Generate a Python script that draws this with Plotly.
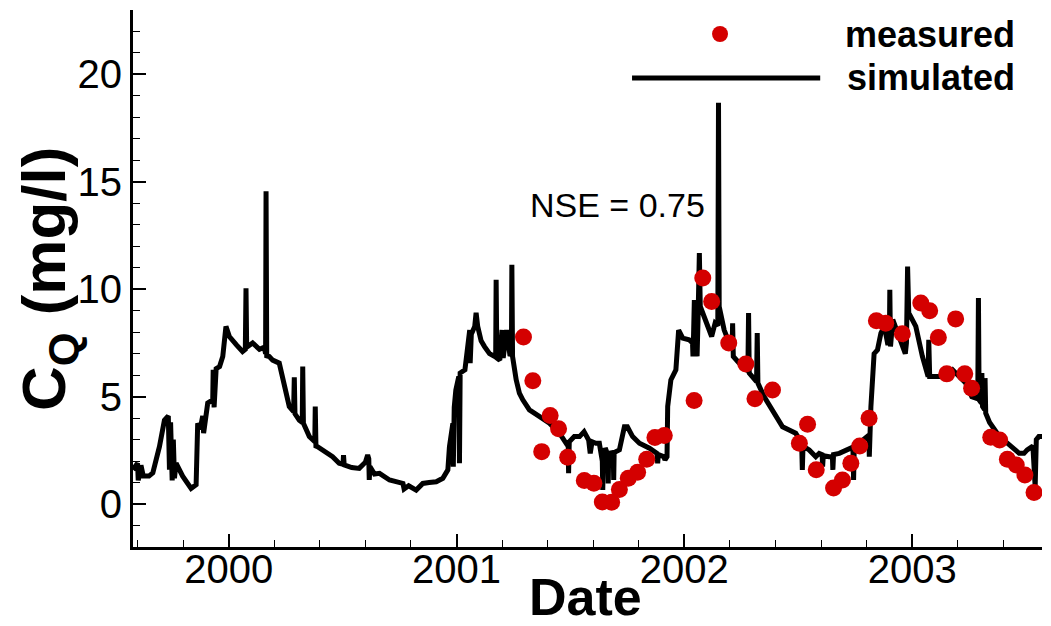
import plotly.graph_objects as go

# ---- data ----
sim_year = [
    1999.579, 1999.600, 1999.603, 1999.615, 1999.625, 1999.650, 1999.667, 1999.696, 1999.718, 1999.735,
    1999.740, 1999.745, 1999.752, 1999.757, 1999.762, 1999.769, 1999.798, 1999.835, 1999.857, 1999.864,
    1999.875, 1999.886, 1999.890, 1999.908, 1999.930, 1999.932, 1999.936, 1999.945, 1999.960, 1999.974,
    1999.988, 2000.003, 2000.035, 2000.061, 2000.073, 2000.076, 2000.079, 2000.105, 2000.135, 2000.156,
    2000.162, 2000.164, 2000.167, 2000.178, 2000.193, 2000.222, 2000.245, 2000.266, 2000.285, 2000.288,
    2000.291, 2000.310, 2000.323, 2000.325, 2000.328, 2000.354, 2000.378, 2000.380, 2000.383, 2000.390,
    2000.427, 2000.456, 2000.485, 2000.502, 2000.504, 2000.507, 2000.540, 2000.573, 2000.600, 2000.610,
    2000.615, 2000.617, 2000.620, 2000.640, 2000.662, 2000.706, 2000.740, 2000.765, 2000.770, 2000.790,
    2000.823, 2000.852, 2000.880, 2000.911, 2000.940, 2000.962, 2000.969, 2000.984, 2000.986, 2000.990,
    2000.997, 2001.010, 2001.013, 2001.016, 2001.037, 2001.050, 2001.058, 2001.060, 2001.065, 2001.080,
    2001.086, 2001.093, 2001.108, 2001.123, 2001.145, 2001.167, 2001.172, 2001.174, 2001.177, 2001.190,
    2001.200, 2001.205, 2001.220, 2001.235, 2001.241, 2001.243, 2001.246, 2001.262, 2001.276, 2001.291,
    2001.320, 2001.365, 2001.408, 2001.452, 2001.481, 2001.490, 2001.492, 2001.495, 2001.517, 2001.540,
    2001.560, 2001.580, 2001.587, 2001.595, 2001.612, 2001.627, 2001.640, 2001.642, 2001.645, 2001.656,
    2001.664, 2001.666, 2001.668, 2001.688, 2001.690, 2001.692, 2001.715, 2001.737, 2001.750, 2001.773,
    2001.803, 2001.847, 2001.880, 2001.883, 2001.886, 2001.910, 2001.915, 2001.924, 2001.927, 2001.941,
    2001.963, 2001.975, 2001.993, 2002.021, 2002.036, 2002.038, 2002.040, 2002.044, 2002.050, 2002.056,
    2002.060, 2002.066, 2002.070, 2002.095, 2002.120, 2002.135, 2002.147, 2002.150, 2002.153, 2002.175,
    2002.197, 2002.210, 2002.212, 2002.215, 2002.241, 2002.279, 2002.282, 2002.285, 2002.317, 2002.320,
    2002.323, 2002.350, 2002.387, 2002.431, 2002.460, 2002.489, 2002.515, 2002.518, 2002.521, 2002.548,
    2002.577, 2002.592, 2002.605, 2002.607, 2002.610, 2002.636, 2002.650, 2002.652, 2002.655, 2002.680,
    2002.724, 2002.740, 2002.743, 2002.746, 2002.767, 2002.797, 2002.810, 2002.812, 2002.816, 2002.819,
    2002.833, 2002.848, 2002.863, 2002.878, 2002.892, 2002.900, 2002.902, 2002.905, 2002.915, 2002.943,
    2002.970, 2002.975, 2002.980, 2002.985, 2003.016, 2003.045, 2003.070, 2003.073, 2003.077, 2003.133,
    2003.177, 2003.235, 2003.262, 2003.288, 2003.291, 2003.294, 2003.304, 2003.306, 2003.309, 2003.318,
    2003.320, 2003.323, 2003.340, 2003.373, 2003.402, 2003.440, 2003.470, 2003.491, 2003.505, 2003.530,
    2003.540, 2003.545, 2003.556, 2003.570,
]
sim_value = [
    1.60, 1.90, 1.10, 1.80, 1.30, 1.30, 1.45, 2.67, 3.90, 4.10,
    1.60, 3.80, 1.10, 3.00, 1.20, 1.90, 1.30, 0.73, 0.90, 3.76,
    3.50, 4.10, 3.30, 4.70, 4.85, 6.25, 4.50, 6.30, 6.40, 6.87,
    8.27, 7.80, 7.40, 7.10, 7.20, 10.05, 7.30, 7.50, 7.20, 7.30,
    7.00, 14.56, 6.90, 6.87, 6.70, 6.56, 5.50, 4.54, 4.30, 5.90,
    4.20, 3.90, 3.80, 6.40, 3.76, 3.14, 2.90, 4.54, 2.70, 2.67,
    2.44, 2.20, 1.90, 1.85, 2.28, 1.82, 1.70, 1.66, 1.95, 2.28,
    2.10, 1.12, 1.74, 1.40, 1.43, 1.12, 1.05, 0.96, 0.70, 0.85,
    0.65, 0.96, 1.00, 1.04, 1.20, 1.59, 2.67, 3.76, 1.74, 4.50,
    5.30, 5.94, 1.90, 6.10, 6.25, 7.65, 8.10, 6.56, 7.90, 8.27,
    8.90, 8.27, 7.60, 7.33, 7.00, 6.87, 6.90, 10.44, 6.80, 6.70,
    8.10, 6.80, 8.10, 6.90, 7.00, 11.14, 6.87, 5.78, 5.16, 4.85,
    4.38, 4.07, 3.76, 3.30, 2.83, 2.90, 1.43, 2.90, 3.14, 3.14,
    3.37, 2.98, 2.36, 2.90, 2.83, 2.83, 2.00, 0.65, 2.50, 2.52,
    2.30, 0.96, 2.36, 2.40, 1.12, 2.40, 2.52, 3.60, 3.60, 3.14,
    2.83, 2.60, 2.36, 1.90, 2.30, 2.20, 2.05, 2.20, 4.54, 5.78,
    6.25, 8.10, 7.72, 7.65, 7.50, 6.87, 7.60, 9.50, 8.00, 6.87,
    8.50, 11.68, 9.20, 8.42, 7.80, 8.42, 8.30, 18.68, 9.20, 8.10,
    7.50, 7.40, 8.42, 6.87, 6.56, 6.20, 8.89, 6.10, 5.70, 7.96,
    5.63, 5.00, 4.38, 3.60, 3.45, 3.30, 2.83, 1.59, 2.70, 2.52,
    2.20, 2.36, 2.30, 1.74, 2.25, 2.20, 2.20, 1.59, 2.30, 2.36,
    2.60, 2.65, 1.12, 2.70, 2.83, 3.14, 3.20, 2.20, 3.50, 4.54,
    7.00, 7.18, 7.96, 8.27, 7.50, 7.50, 9.98, 7.33, 8.58, 7.80,
    7.00, 7.50, 11.06, 8.90, 8.27, 6.87, 5.94, 7.65, 5.94, 5.94,
    6.25, 5.63, 5.00, 4.90, 9.59, 4.85, 4.70, 6.10, 4.54, 4.40,
    5.86, 4.23, 3.80, 3.30, 2.98, 2.67, 2.36, 2.36, 2.52, 2.70,
    0.80, 3.00, 3.14, 3.14,
]

meas_year = [
    2001.294, 2001.335, 2001.374, 2001.411, 2001.448, 2001.488, 2001.561, 2001.603, 2001.640, 2001.681,
    2001.715, 2001.754, 2001.795, 2001.835, 2001.871, 2001.912, 2002.043, 2002.081, 2002.120, 2002.195,
    2002.270, 2002.310, 2002.387, 2002.505, 2002.541, 2002.579, 2002.655, 2002.694, 2002.731, 2002.770,
    2002.811, 2002.843, 2002.884, 2002.957, 2003.038, 2003.077, 2003.115, 2003.152, 2003.191, 2003.231,
    2003.261, 2003.345, 2003.384, 2003.418, 2003.457, 2003.495, 2003.535,
]
meas_value = [
    7.78, 5.74, 2.44, 4.12, 3.50, 2.18, 1.10, 0.97, 0.10, 0.08,
    0.68, 1.20, 1.48, 2.08, 3.10, 3.19, 4.82, 10.52, 9.43, 7.50,
    6.52, 4.90, 5.31, 2.83, 3.71, 1.60, 0.75, 1.12, 1.90, 2.70,
    3.99, 8.53, 8.42, 7.93, 9.36, 9.00, 7.75, 6.06, 8.62, 6.06,
    5.39, 3.11, 2.98, 2.08, 1.82, 1.35, 0.54,
]

year_ticks = [2000, 2001, 2002, 2003]
year_labels = ["2000", "2001", "2002", "2003"]
y_ticks = [0, 5, 10, 15, 20]

FONT = "Liberation Sans, Arial, Helvetica, sans-serif"

fig = go.Figure()
fig.add_trace(go.Scatter(
    x=sim_year, y=sim_value, mode="lines",
    line=dict(color="black", width=5), name="simulated", showlegend=False,
))
fig.add_trace(go.Scatter(
    x=meas_year, y=meas_value, mode="markers",
    marker=dict(color="#d40000", size=17, line=dict(width=0)),
    name="measured", showlegend=False,
))

fig.update_xaxes(
    range=[1999.58, 2003.57],
    tickmode="array", tickvals=year_ticks, ticktext=year_labels,
    ticks="inside", ticklen=13, tickwidth=2, tickcolor="black",
    minor=dict(ticks="inside", ticklen=7, tickwidth=1, tickcolor="black",
               tickmode="linear", tick0=2000, dtick=0.2),
    showline=True, linewidth=3, linecolor="black",
    showgrid=False, zeroline=False,
    ticklabelstandoff=-15,
    tickfont=dict(family=FONT, size=40, color="black"),
)
fig.update_yaxes(
    range=[-2, 23],
    tickmode="array", tickvals=y_ticks,
    ticks="inside", ticklen=13, tickwidth=2, tickcolor="black",
    minor=dict(ticks="inside", ticklen=7, tickwidth=1, tickcolor="black",
               tickmode="linear", tick0=0, dtick=1),
    showline=True, linewidth=3, linecolor="black",
    showgrid=False, zeroline=False,
    tickfont=dict(family=FONT, size=40, color="black"),
)

annotations = [
    dict(text="<b>Date</b>", xref="paper", yref="paper", x=0.498, y=-0.094,
         showarrow=False, font=dict(family=FONT, size=52, color="black"),
         xanchor="center", yanchor="middle"),
    dict(text="<b>C<sub>Q</sub> (mg/l)</b>", xref="paper", yref="paper", x=-0.094, y=0.50,
         showarrow=False, textangle=-90, font=dict(family=FONT, size=62, color="black"),
         xanchor="center", yanchor="middle"),
    dict(text="NSE = 0.75", xref="x", yref="y", x=2001.706, y=13.94,
         showarrow=False, font=dict(family=FONT, size=34, color="black"),
         xanchor="center", yanchor="middle"),
    dict(text="<b>measured</b>", xref="paper", yref="paper", x=0.9725, y=0.9553,
         showarrow=False, font=dict(family=FONT, size=36, color="black"),
         xanchor="right", yanchor="middle"),
    dict(text="<b>simulated</b>", xref="paper", yref="paper", x=0.9725, y=0.8734,
         showarrow=False, font=dict(family=FONT, size=36, color="black"),
         xanchor="right", yanchor="middle"),
]

shapes = [
    # legend symbols
    dict(type="circle", xref="paper", yref="paper", xsizemode="pixel", ysizemode="pixel",
         xanchor=0.6458, yanchor=0.9553, x0=-8, x1=8, y0=-8, y1=8,
         fillcolor="#d40000", line=dict(width=0)),
    dict(type="line", xref="paper", yref="paper", x0=0.549, x1=0.756, y0=0.8734, y1=0.8734,
         line=dict(color="black", width=5)),
]

# page body adds an 8px offset; size the figure so the plot area lands where the reference has it
fig.update_layout(
    width=1043, height=618,
    margin=dict(l=125, r=9, t=2, b=79),
    paper_bgcolor="white", plot_bgcolor="white",
    showlegend=False,
    annotations=annotations, shapes=shapes,
    font=dict(family=FONT, color="black"),
)

fig.write_html("out.html")
